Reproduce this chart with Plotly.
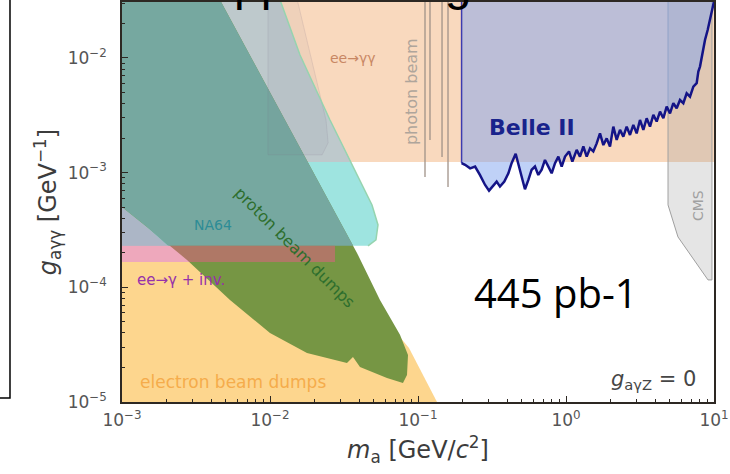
import plotly.graph_objects as go

# ---------------- data (mass in GeV/c^2, coupling g in GeV^-1) ----------------
# ee -> gamma gamma (LEP)
eegg_mass = [1e-3, 10, 10, 1e-3]
eegg_g = [1.24e-3, 1.24e-3, 0.05, 0.05]

# NA64 (full contour) and the part overlapping ee->gg
na64_mass = [1e-3, 1.032e-2, 1.168e-2, 1.595e-2, 2.543e-2, 3.753e-2, 4.889e-2, 5.366e-2, 5.20e-2, 4.595e-2, 1e-3]
na64_g = [0.05, 0.05, 3.2e-2, 1.062e-2, 2.88e-3, 1.055e-3, 5.23e-4, 3.50e-4, 2.59e-4, 2.3e-4, 2.3e-4]
na64_hi_mass = [1e-3, 1.032e-2, 1.168e-2, 1.595e-2, 2.543e-2, 3.526e-2, 1e-3]
na64_hi_g = [0.05, 0.05, 3.2e-2, 1.062e-2, 2.88e-3, 1.24e-3, 1.24e-3]

# electron beam dumps
edump_mass = [1e-3, 2.836e-3, 1.595e-2, 6.467e-2, 8.694e-2, 0.1344, 1e-3]
edump_g = [1.665e-4, 1.665e-4, 8.59e-5, 4.70e-5, 2.963e-5, 1e-5, 1e-5]

# ee -> gamma + invisible
inv_mass = [1e-3, 2.75e-2, 2.75e-2, 1e-3]
inv_g = [1.665e-4, 1.665e-4, 2.3e-4, 2.3e-4]
inv_na64_mass = [1e-3, 1.476e-3, 2.046e-3, 1e-3]
inv_na64_g = [5.02e-4, 3.36e-4, 2.3e-4, 2.3e-4]

# proton beam dumps (full contour) and the part overlapping NA64
pdump_mass = [1e-3, 3.813e-3, 3.871e-2, 5.535e-2, 7.555e-2, 8.559e-2, 8.427e-2, 7.915e-2, 6.172e-2,
              4.055e-2, 3.637e-2, 3.313e-2, 1.778e-2, 1.0e-2, 5.366e-3, 2.75e-3, 1.476e-3, 1e-3]
pdump_g = [0.05, 0.05, 1.995e-4, 7.77e-5, 3.85e-5, 2.574e-5, 1.723e-5, 1.467e-5, 1.622e-5,
           2.023e-5, 2.472e-5, 2.193e-5, 2.68e-5, 4.0e-5, 7.77e-5, 1.733e-4, 3.36e-4, 5.02e-4]
pdump_na64_mass = [1e-3, 3.813e-3, 3.643e-2, 2.046e-3, 1.476e-3, 1e-3]
pdump_na64_g = [0.05, 0.05, 2.3e-4, 2.3e-4, 3.36e-4, 5.02e-4]

# grey patch inside the ee->gg region
patch_mass = [9.69e-3, 9.69e-3, 2.25e-2, 2.47e-2, 2.39e-2, 1.408e-2]
patch_g = [0.05, 1.43e-3, 1.43e-3, 1.82e-3, 2.88e-3, 0.05]

# photon beam (narrow vertical limits)
photon_mass = [0.1115, 0.1205, 0.1453, 0.1595]
photon_gmin = [9.17e-4, 1.93e-3, 1.37e-3, 7.5e-4]

# CMS
cms_mass = [4.89, 4.89, 5.71, 9.11, 9.69, 9.69]
cms_g = [0.05, 5.23e-4, 2.75e-4, 1.16e-4, 1.16e-4, 0.05]

# Belle II expected limit (445 pb^-1)
belle_mass = [0.197, 0.208, 0.225, 0.243, 0.262, 0.284, 0.302, 0.323, 0.340, 0.358,
              0.383, 0.408, 0.429, 0.457, 0.481, 0.507, 0.528, 0.557, 0.586, 0.617,
              0.650, 0.685, 0.721, 0.760, 0.800, 0.843, 0.888, 0.935, 0.985, 1.048,
              1.104, 1.181, 1.243, 1.310, 1.380, 1.453, 1.530, 1.612, 1.697, 1.788,
              1.883, 1.983, 2.088, 2.200, 2.317, 2.440, 2.570, 2.706, 2.851, 3.002,
              3.162, 3.331, 3.508, 3.695, 3.892, 4.100, 4.317, 4.548, 4.788, 5.043,
              5.311, 5.595, 5.892, 6.206, 6.536, 6.884, 7.253, 7.638, 7.838, 8.043,
              8.340, 8.694, 9.062, 9.397, 9.743, 10.0]
belle_g = [1.21e-3, 1.17e-3, 1.09e-3, 1.13e-3, 9.55e-4, 7.81e-4, 6.97e-4, 7.81e-4, 8.35e-4, 7.56e-4,
           8.35e-4, 9.87e-4, 1.21e-3, 1.46e-3, 1.13e-3, 8.35e-4, 7.16e-4, 8.64e-4, 1.06e-3, 1.13e-3,
           9.55e-4, 1.06e-3, 1.29e-3, 1.13e-3, 9.87e-4, 1.21e-3, 1.38e-3, 1.13e-3, 1.38e-3, 1.53e-3,
           1.25e-3, 1.58e-3, 1.38e-3, 1.69e-3, 1.38e-3, 1.63e-3, 1.53e-3, 1.80e-3, 2.20e-3, 1.74e-3,
           1.99e-3, 1.69e-3, 2.52e-3, 1.93e-3, 2.36e-3, 2.06e-3, 2.52e-3, 2.13e-3, 2.61e-3, 2.20e-3,
           2.88e-3, 2.36e-3, 2.98e-3, 2.52e-3, 3.19e-3, 2.79e-3, 3.40e-3, 2.98e-3, 3.77e-3, 3.29e-3,
           4.03e-3, 3.64e-3, 4.30e-3, 4.03e-3, 4.92e-3, 4.60e-3, 5.62e-3, 6.02e-3, 7.60e-3, 8.41e-3,
           1.098e-2, 1.436e-2, 1.754e-2, 2.145e-2, 2.71e-2, 3.10e-2]
belle_top = 0.05

# axis ticks
xtick_vals = [1e-3, 1e-2, 1e-1, 1, 10]
xtick_text = ["10<sup>−3</sup>", "10<sup>−2</sup>", "10<sup>−1</sup>", "10<sup>0</sup>", "10<sup>1</sup>"]
ytick_vals = [1e-5, 1e-4, 1e-3, 1e-2]
ytick_text = ["10<sup>−5</sup>", "10<sup>−4</sup>", "10<sup>−3</sup>", "10<sup>−2</sup>"]
x_minor = [d * 10.0 ** e for e in range(-3, 1) for d in range(2, 10)]
y_minor = [d * 10.0 ** e for e in range(-5, -1) for d in range(2, 10)]

FONT = "DejaVu Sans"
fig = go.Figure()


def region(xs, ys, fill, line_color=None, line_width=0):
    fig.add_trace(go.Scatter(
        x=xs, y=ys, mode="lines", fill="toself", fillcolor=fill,
        line=dict(color=line_color or fill, width=line_width),
        hoverinfo="skip", showlegend=False))


region(eegg_mass, eegg_g, "rgb(249,217,190)")
region(na64_mass, na64_g, "rgb(158,228,224)")
region(na64_hi_mass, na64_hi_g, "rgb(190,201,204)")
region(edump_mass, edump_g, "rgb(253,214,142)")
region(inv_na64_mass, inv_na64_g, "rgb(172,182,198)")
region(pdump_mass, pdump_g, "rgb(118,150,68)")
region(pdump_na64_mass, pdump_na64_g, "rgb(118,168,160)")
region(inv_mass, inv_g, "rgba(224,94,131,0.54)")
region(patch_mass, patch_g, "rgba(120,110,135,0.07)", "rgba(120,110,135,0.15)", 1)
# NA64 outline
fig.add_trace(go.Scatter(x=na64_mass[1:10], y=na64_g[1:10], mode="lines",
                         line=dict(color="rgb(150,212,175)", width=1.5),
                         hoverinfo="skip", showlegend=False))
# photon beam
for m, gmin in zip(photon_mass, photon_gmin):
    fig.add_trace(go.Scatter(x=[m, m], y=[belle_top, gmin], mode="lines",
                             line=dict(color="rgb(160,146,136)", width=1.3),
                             hoverinfo="skip", showlegend=False))
# CMS
region(cms_mass, cms_g, "rgba(150,150,150,0.25)", "rgb(160,160,160)", 1)
# Belle II
region([belle_mass[0]] + belle_mass + [belle_mass[-1]],
       [belle_top] + belle_g + [belle_top], "rgba(127,163,240,0.5)")
fig.add_trace(go.Scatter(x=[belle_mass[0], belle_mass[0]], y=[belle_top, belle_g[0]], mode="lines",
                         line=dict(color="rgb(60,60,175)", width=1.5),
                         hoverinfo="skip", showlegend=False))
fig.add_trace(go.Scatter(x=belle_mass, y=belle_g, mode="lines",
                         line=dict(color="rgb(20,20,135)", width=2.5),
                         hoverinfo="skip", showlegend=False))


def label(text, xp, yp, size, color, angle=0, bold=False, family=FONT, xanchor="center", yanchor="middle"):
    if bold:
        text = "<b>" + text + "</b>"
    fig.add_annotation(text=text, x=xp, y=yp, xref="paper", yref="paper", showarrow=False,
                       textangle=angle, xanchor=xanchor, yanchor=yanchor,
                       font=dict(size=size, color=color, family=family))


label("ee→γγ", 0.390, 0.86, 14, "rgb(200,135,100)")
label("photon beam", 0.490, 0.775, 16, "rgb(175,165,155)", angle=-90)
label("Belle II", 0.6926, 0.6875, 22, "rgb(25,35,140)", bold=True)
label("CMS", 0.973, 0.49, 14, "rgb(160,160,160)", angle=-90)
label("NA64", 0.1537, 0.4425, 14, "rgb(45,140,150)")
label("proton beam dumps", 0.2922, 0.3875, 16, "rgb(45,110,45)", angle=45)
label("ee→γ + inv.", 0.0997, 0.305, 15, "rgb(150,50,170)")
label("electron beam dumps", 0.1875, 0.05, 17, "rgb(245,172,75)")
label("445 pb-1", 0.733, 0.275, 40, "black", family="Open Sans")
label("<i>g</i><sub>aγZ</sub> = 0", 0.973, 0.055, 21, "rgb(70,70,70)", xanchor="right")
# slide title (cut off above the picture)
label("Approaching", 0.1318, 0.975, 48, "black", family="Liberation Sans", xanchor="left", yanchor="bottom")

# left panel border fragment
fig.add_shape(type="path", xref="paper", yref="paper",
              path="M -0.25,0.01 L -0.1892,0.01 L -0.1892,1.03",
              line=dict(color="black", width=1.5))

axis_common = dict(
    type="log", showgrid=False, zeroline=False, showline=True, mirror=True,
    linecolor="rgb(45,40,35)", linewidth=1.5, ticks="inside", ticklen=6, tickwidth=1,
    tickcolor="rgb(45,40,35)", tickfont=dict(size=17, color="rgb(85,85,85)", family=FONT),
    tickmode="array",
)
fig.update_xaxes(axis_common, range=[-3, 1], tickvals=xtick_vals, ticktext=xtick_text,
                 ticklabelstandoff=2,
                 minor=dict(tickmode="array", tickvals=x_minor, ticks="inside", ticklen=3,
                            tickcolor="rgb(45,40,35)"),
                 title=dict(text="<i>m</i><sub>a</sub> [GeV/<i>c</i><sup>2</sup>]",
                            font=dict(size=24, color="rgb(60,60,60)", family=FONT), standoff=12))
fig.update_yaxes(axis_common, range=[-5, -1.512], tickvals=ytick_vals, ticktext=ytick_text,
                 ticklabelstandoff=10,
                 minor=dict(tickmode="array", tickvals=y_minor, ticks="inside", ticklen=3,
                            tickcolor="rgb(45,40,35)"),
                 title=dict(text="<i>g</i><sub>aγγ</sub> [GeV<sup>−1</sup>]",
                            font=dict(size=24, color="rgb(60,60,60)", family=FONT), standoff=4))

fig.update_layout(
    width=730, height=474,
    margin=dict(l=122, r=16, t=2, b=72, autoexpand=False),
    paper_bgcolor="white", plot_bgcolor="white",
    showlegend=False,
    font=dict(family=FONT),
)

fig.write_html("out.html", config={"displayModeBar": False},
               post_script="document.body.style.margin='0px';")
